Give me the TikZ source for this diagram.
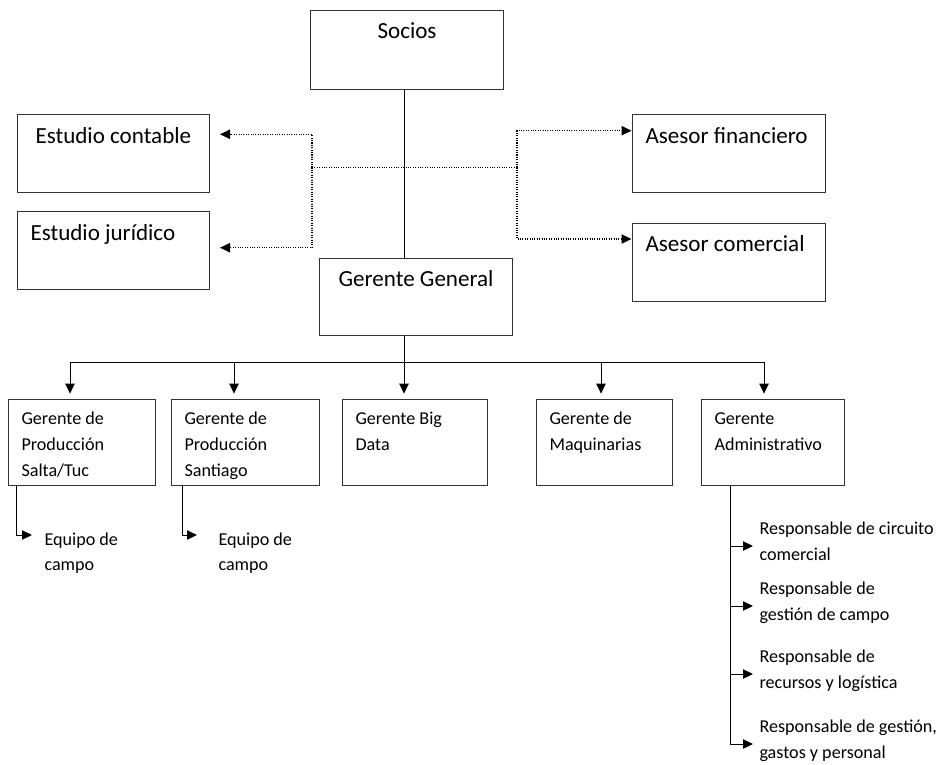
\documentclass[tikz,border=0pt]{standalone}
\usepackage{fontspec}
\setmainfont{Carlito}
\usetikzlibrary{arrows.meta}

\tikzset{
  caja/.style={draw=black!80, line width=0.8pt, anchor=north west, inner sep=0pt},
  grande/.style={anchor=base west, inner sep=0pt, font=\fontsize{17.3}{21}\selectfont},
  chico/.style={anchor=base west, inner sep=0pt, align=left, font=\fontsize{13.6}{19.5}\selectfont},
  suelto/.style={chico, font=\fontsize{13.6}{18.9}\selectfont},
  flecha/.style={-{Triangle[length=7.5pt,width=7pt]}},
  punteado/.style={densely dotted, line width=0.8pt},
}

\begin{document}
\begin{tikzpicture}[x=0.75pt,y=-0.75pt,line width=0.75pt]
\useasboundingbox (0,0) rectangle (937,764);
% cajas de arriba
\node[caja,minimum width=144.75pt,minimum height=59.25pt,
  label={[grande,anchor=base,yshift=-21pt]north:Socios}] (socios) at (310,10) {};
\node[caja,minimum width=144pt,minimum height=58.5pt,
  label={[grande,xshift=13.5pt,yshift=-22pt]north west:Estudio contable}] (contable) at (17,114) {};
\node[caja,minimum width=144pt,minimum height=58.5pt,
  label={[grande,xshift=9.75pt,yshift=-22pt]north west:Estudio jurídico}] (juridico) at (17,211) {};
\node[caja,minimum width=144.75pt,minimum height=58.5pt,
  label={[grande,xshift=9.75pt,yshift=-22pt]north west:Asesor financiero}] (financiero) at (632,114) {};
\node[caja,minimum width=144.75pt,minimum height=58.5pt,
  label={[grande,xshift=9.75pt,yshift=-21.4pt]north west:Asesor comercial}] (comercial) at (632,223) {};
\node[caja,minimum width=144.75pt,minimum height=57.75pt,
  label={[grande,anchor=base,yshift=-21.4pt]north:Gerente General}] (general) at (319,258) {};
% gerencias (base = ultima linea)
\node[caja,minimum width=110.25pt,minimum height=64.5pt,
  label={[chico,xshift=9.75pt,yshift=-57.75pt]north west:Gerente de\\Producción\\Salta/Tuc}] (g1) at (8,399) {};
\node[caja,minimum width=111pt,minimum height=64.5pt,
  label={[chico,xshift=9.75pt,yshift=-57.75pt]north west:Gerente de\\Producción\\Santiago}] (g2) at (171,399) {};
\node[caja,minimum width=108.75pt,minimum height=64.5pt,
  label={[chico,xshift=9.75pt,yshift=-38.25pt]north west:Gerente Big\\Data}] (g3) at (342,399) {};
\node[caja,minimum width=102pt,minimum height=64.5pt,
  label={[chico,xshift=9.75pt,yshift=-38.25pt]north west:Gerente de\\Maquinarias}] (g4) at (536,399) {};
\node[caja,minimum width=107.25pt,minimum height=64.5pt,
  label={[chico,xshift=9.75pt,yshift=-38.25pt]north west:Gerente\\Administrativo}] (g5) at (701,399) {};
% equipos y responsables
\node[suelto] (equipo1) at (44,570.5) {Equipo de\\campo};
\node[suelto] (equipo2) at (218,570.5) {Equipo de\\campo};
\node[suelto] (resp1) at (759,560) {Responsable de circuito\\comercial};
\node[suelto] (resp2) at (759,620) {Responsable de\\gestión de campo};
\node[suelto] (resp3) at (759,688) {Responsable de\\recursos y logística};
\node[suelto] (resp4) at (759,758) {Responsable de gestión,\\gastos y personal};

% lineas
\coordinate (eje) at (404,0);
\coordinate (bus) at (404,362);
\coordinate (busizq) at (70,362);
\coordinate (busder) at (764,362);
\draw (socios.south -| eje) -- (general.north -| eje);
\draw (general.south -| eje) -- (bus);
\draw (busizq) -- (busder);
\foreach \px/\g in {70/g1,234/g2,404/g3,601/g4,764/g5}
  \draw[flecha,shorten >=4pt] (\px,362) -- (\px,0 |- \g.north);
% asesores, punteado
\coordinate (izq) at (312,167.5);
\coordinate (der) at (517,167.5);
\coordinate (pcont) at (220,134.3);
\coordinate (pjur) at (220,247.7);
\coordinate (pfin) at (631.5,130.7);
\coordinate (pcom) at (631.5,239);
\draw[punteado] (izq) -- (der);
\draw[punteado,flecha] (izq) |- (pcont);
\draw[punteado,flecha] (izq) |- (pjur);
\draw[punteado,flecha] (der) |- (pfin);
\draw[punteado,flecha] (der) |- (pcom);
% ramales
\coordinate (ramal1) at (16.7,0);
\coordinate (ramal2) at (182.7,0);
\coordinate (ramal5) at (730.7,0);
\draw[flecha] (g1.south -| ramal1) |- ([shift={(-12,-35.5)}]equipo1.base west);
\draw[flecha] (g2.south -| ramal2) |- ([shift={(-21,-35.5)}]equipo2.base west);
\foreach \i in {1,...,4}
  \draw[flecha] (g5.south -| ramal5) |- ([shift={(-6,-14)}]resp\i.base west);
\end{tikzpicture}
\end{document}
